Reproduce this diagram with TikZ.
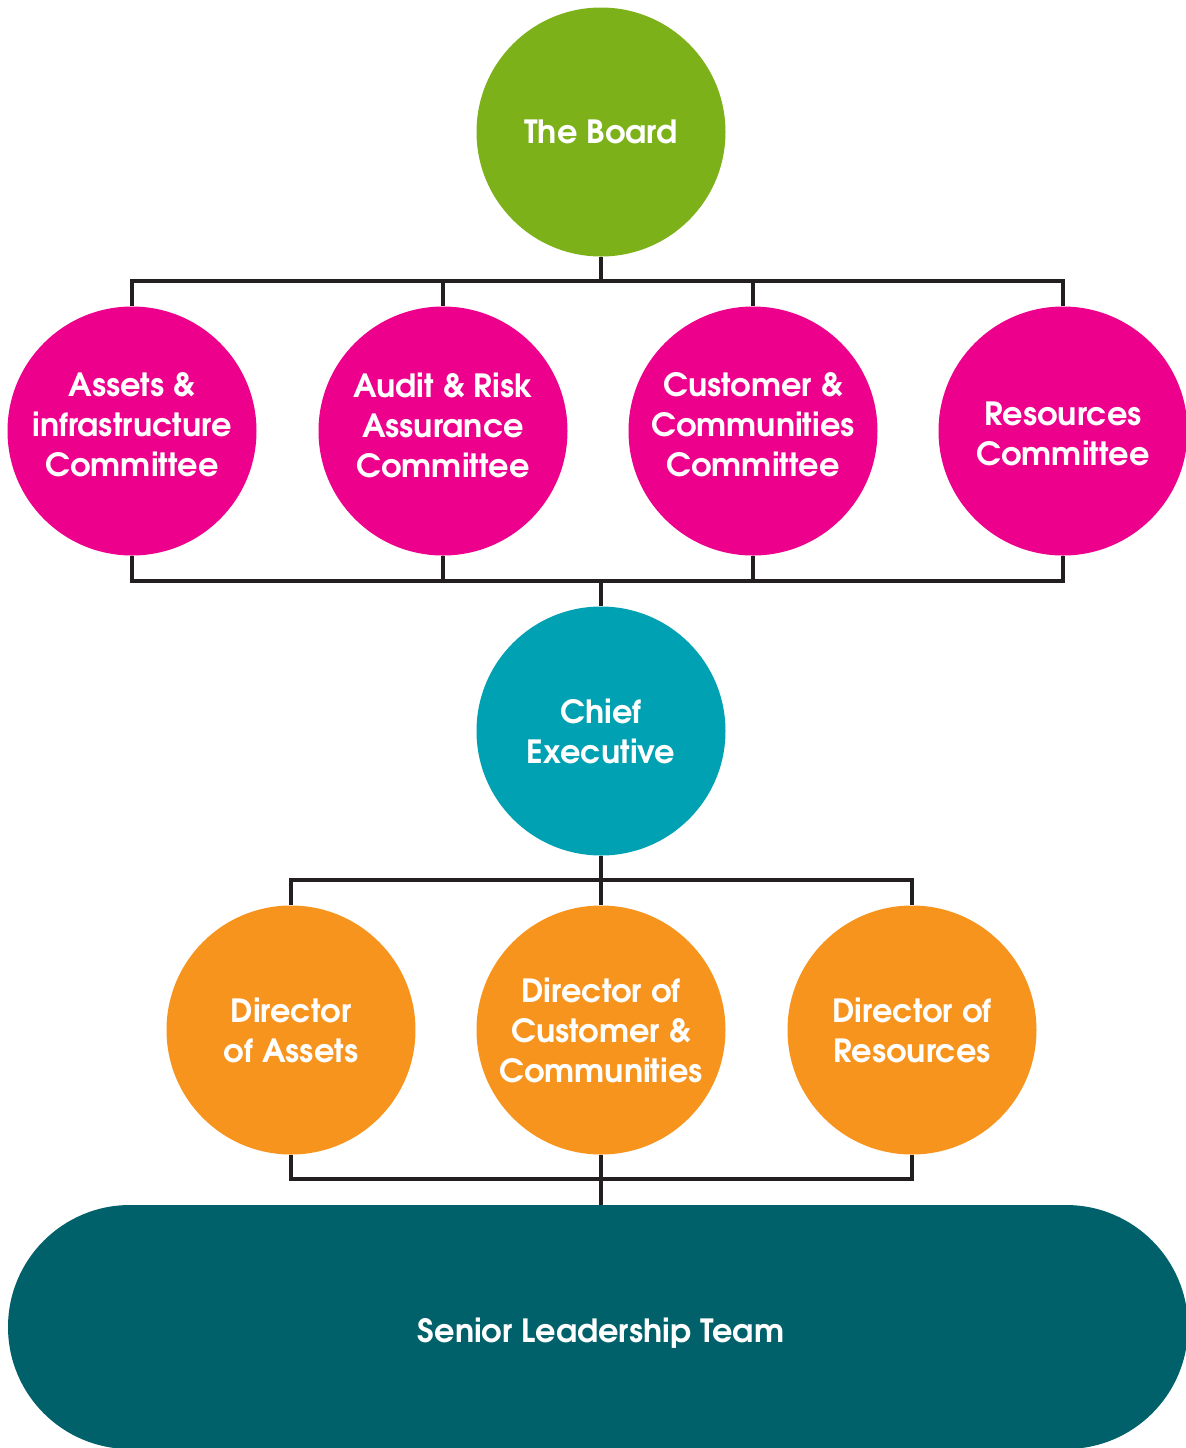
\documentclass[tikz,border=0pt]{standalone}
\usepackage{fontspec}
\setmainfont{TeX Gyre Adventor}
\definecolor{boardgreen}{RGB}{124,177,26}
\definecolor{commag}{RGB}{236,0,140}
\definecolor{ceoteal}{RGB}{0,161,178}
\definecolor{dirorange}{RGB}{247,148,30}
\definecolor{sltteal}{RGB}{0,97,106}
\definecolor{linedark}{RGB}{35,31,32}
\tikzset{
  labeltext/.style={text=white, align=center, inner sep=0pt,
    font=\fontsize{16pt}{20pt}\selectfont\bfseries},
  orgcircle/.style={circle, minimum size=124.5pt, inner sep=0pt, labeltext},
  bus/.style={draw=linedark, line width=2.3pt, line join=miter, line cap=butt},
}
\begin{document}
\begin{tikzpicture}[x=0.5pt, y=-0.5pt]
\useasboundingbox (0,0) rectangle (1186,1448);
% Nodes
\node[orgcircle, fill=boardgreen] (board) at (601,132) {The Board};
\node[orgcircle, fill=commag] (c1) at (132,431) {};
\node[orgcircle, fill=commag] (c2) at (443,431) {};
\node[orgcircle, fill=commag] (c3) at (753,431) {};
\node[orgcircle, fill=commag] (c4) at (1063,431) {};
\node[labeltext] (c1t) at (132,425) {Assets \&\\infrastructure\\Committee};
\node[labeltext] (c2t) at (443,425) {Audit \& Risk\\Assurance\\Committee};
\node[labeltext] (c3t) at (753,425) {Customer \&\\Communities\\Committee};
\node[labeltext] (c4t) at (1063,434) {Resources\\Committee};
\node[orgcircle, fill=ceoteal] (ceo) at (601,731) {Chief\\Executive};
\node[orgcircle, fill=dirorange] (d1) at (291,1030) {Director\\of Assets};
\node[orgcircle, fill=dirorange] (d2) at (601,1030) {Director of\\Customer \&\\Communities};
\node[orgcircle, fill=dirorange] (d3) at (912,1030) {Director of\\Resources};
\node[rectangle, fill=sltteal, minimum width=590pt, minimum height=122pt,
  rounded corners=61pt, inner sep=0pt] (slt) at (598,1327) {};
\node[labeltext] (sltlabel) at (601,1333) {Senior Leadership Team};
% Bus coordinates
\coordinate (busA) at (601,281);
\coordinate (busB) at (601,581);
\coordinate (busC) at (601,880);
\coordinate (busD) at (601,1179);
% Board to committees
\draw[bus] (board.south) -- (busA);
\draw[bus] (c1.north) |- (c4.north |- busA) -- (c4.north);
\draw[bus] (c2.north) -- (c2.north |- busA);
\draw[bus] (c3.north) -- (c3.north |- busA);
% Committees to CEO
\draw[bus] (c1.south) |- (c4.south |- busB) -- (c4.south);
\draw[bus] (c2.south) -- (c2.south |- busB);
\draw[bus] (c3.south) -- (c3.south |- busB);
\draw[bus] (busB) -- (ceo.north);
% CEO to directors
\draw[bus] (ceo.south) -- (busC);
\draw[bus] (d1.north) |- (d3.north |- busC) -- (d3.north);
\draw[bus] (d2.north) -- (busC);
% Directors to SLT
\draw[bus] (d1.south) |- (d3.south |- busD) -- (d3.south);
\draw[bus] (d2.south) -- (busD);
\draw[bus] (busD) -- (slt.north -| busD);
\end{tikzpicture}
\end{document}
